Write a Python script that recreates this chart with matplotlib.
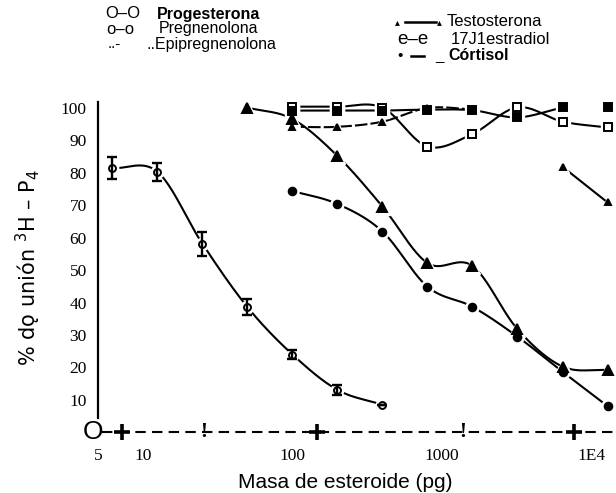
import numpy as np
import matplotlib
matplotlib.use("Agg")
import matplotlib.pyplot as plt

# ---------------- data ----------------
doses = [6.25, 12.5, 25, 50, 100, 200, 400, 800, 1600, 3200, 6400, 12800]

prog_idx = [0, 1, 2, 3, 4, 5, 6]
prog_val = [81.5, 80.3, 58.1, 38.6, 24.0, 13.1, 8.5]
prog_err = [3.4, 2.8, 3.7, 2.5, 1.5, 1.5, 0.0]

testo_idx = [3, 4, 5, 6, 7, 8, 9, 10, 11]
testo_val = [100.1, 96.6, 85.2, 69.6, 52.2, 51.3, 31.8, 20.3, 19.2]

cort_idx = [4, 5, 6, 7, 8, 9, 10, 11]
cort_val = [74.4, 70.4, 61.9, 44.9, 38.7, 29.5, 18.7, 8.1]

opensq_idx = [4, 5, 6, 7, 8, 9, 10, 11]
opensq_val = [100.4, 100.4, 100.1, 88.1, 92.0, 100.2, 95.8, 94.0]

fillsq_idx = [4, 5, 6, 7, 8, 9, 10]
fillsq_val = [99.2, 99.2, 99.2, 99.5, 99.3, 97.1, 100.2]
fillsq_lone_idx = [11]
fillsq_lone_val = [100.4]

smtri_idx = [4, 5, 6, 7, 8]
smtri_val = [94.2, 94.2, 95.8, 100.0, 99.6]

pair_idx = [10, 11]
pair_val = [81.9, 70.9]

ytick_vals = [10, 20, 30, 40, 50, 60, 70, 80, 90, 100]
xtick_vals = [5, 10, 100, 1000, 10000]
xtick_labels = ["5", "10", "100", "1000", "1E4"]

# ---------------- helpers ----------------
def dose_of(i):
    return doses[0] * 2.0 ** np.asarray(i, dtype=float)

def smooth(idx, val, n=24):
    """Catmull-Rom path through the given points (for drawing the line)."""
    x = np.asarray(idx, float)
    y = np.asarray(val, float)
    if len(x) < 3:
        return dose_of(x), y
    P = np.column_stack([x, y])
    P = np.vstack([2 * P[0] - P[1], P, 2 * P[-1] - P[-2]])
    out = []
    t = np.linspace(0, 1, n, endpoint=False)[:, None]
    for k in range(1, len(P) - 2):
        p0, p1, p2, p3 = P[k - 1], P[k], P[k + 1], P[k + 2]
        seg = 0.5 * ((2 * p1) + (-p0 + p2) * t + (2 * p0 - 5 * p1 + 4 * p2 - p3) * t ** 2
                     + (-p0 + 3 * p1 - 3 * p2 + p3) * t ** 3)
        out.append(seg)
    out.append(P[-2][None, :])
    out = np.vstack(out)
    return dose_of(out[:, 0]), out[:, 1]

# ---------------- figure ----------------
W, H = 616, 493
fig = plt.figure(figsize=(W / 100, H / 100), dpi=100)
ax_left_px, ax_right_px = 98, 616
y_bot_px, y_top_px = 442.1, 101.5
ax = fig.add_axes([ax_left_px / W, 1 - y_bot_px / H,
                   (ax_right_px - ax_left_px) / W, (y_bot_px - y_top_px) / H])
ax.set_xscale("log")
ax.set_xlim(5, 14590)
ax.set_ylim(-3, 102)

lw = 1.5
k = "black"

def curve(idx, val, ls="-"):
    xs, ys = smooth(idx, val)
    ax.plot(xs, ys, color=k, lw=lw, ls=ls, solid_capstyle="butt", zorder=2)

def marks(idx, val, marker, size, fill, halo=True):
    xs = dose_of(idx)
    if halo:
        ax.plot(xs, val, ls="none", marker=marker, ms=size + 4, mfc="white",
                mec="white", zorder=3)
    ax.plot(xs, val, ls="none", marker=marker, ms=size, mfc=fill, mec=k,
            mew=1.4, zorder=4)

# progesterone with error bars
curve(prog_idx, prog_val)
ax.errorbar(dose_of(prog_idx), prog_val, yerr=prog_err, fmt="none", ecolor=k,
            elinewidth=1.7, capsize=3.5, capthick=1.7, zorder=5)
marks(prog_idx, prog_val, "o", 5, "white")

curve(testo_idx, testo_val)
marks(testo_idx, testo_val, "^", 7, k)

curve(cort_idx, cort_val)
marks(cort_idx, cort_val, "o", 5.5, k)

curve(opensq_idx, opensq_val)
marks(opensq_idx, opensq_val, "s", 6, "white")

curve(fillsq_idx, fillsq_val)
marks(fillsq_idx, fillsq_val, "s", 5.5, k)
marks(fillsq_lone_idx, fillsq_lone_val, "s", 5.5, k, halo=False)

curve(smtri_idx, smtri_val, ls=(0, (6, 1.5)))
marks(smtri_idx, smtri_val, "^", 4.5, k)

ax.plot(dose_of(pair_idx), pair_val, color=k, lw=lw, zorder=2)
marks(pair_idx, pair_val, "^", 5, k)

# ---------------- axes styling ----------------
for s in ["top", "right", "bottom"]:
    ax.spines[s].set_visible(False)
ax.spines["left"].set_linewidth(1.6)
ax.spines["left"].set_bounds(4.4, 101.8)

ax.set_yticks(ytick_vals)
ax.set_yticklabels([str(v) for v in ytick_vals], family="Liberation Serif", fontsize=12.5)
ax.set_xticks(xtick_vals)
ax.set_xticklabels(xtick_labels, family="Liberation Serif", fontsize=12.5)
ax.xaxis.set_minor_locator(matplotlib.ticker.NullLocator())
ax.tick_params(axis="y", length=0, pad=8)
ax.tick_params(axis="x", length=0, pad=4)

# typed-looking baseline axis  O+----!-------+---------!------+--
ax.plot([5.3, 14590], [0, 0], color=k, lw=1.5, ls=(0, (5, 3)), clip_on=False, zorder=1)
ax.text(4.6, 0, "O", ha="center", va="center", fontsize=19, family="Liberation Sans",
        clip_on=False)
for xd in [7.2, 145, 7600]:
    ax.plot([xd], [0], marker="+", ms=11, mew=2.6, color=k, clip_on=False, zorder=3)
for xd in [25.6, 1380]:
    ax.text(xd, 0, "!", ha="center", va="center", fontsize=15, family="Liberation Serif",
            fontweight="bold", clip_on=False)

fig.text(345 / W, 1 - 482 / H, "Masa de esteroide (pg)", ha="center", va="center",
         family="Liberation Sans", fontsize=15)
fig.text(28 / W, 1 - 268 / H, "% dǫ unión $^{3}$H – P$_{4}$", rotation=90,
         ha="center", va="center", fontsize=15, family="DejaVu Sans")

# ---------------- legend (typed text) ----------------
def ftxt(x, y, s, **kw):
    fig.text(x / W, 1 - y / H, s, va="center", **kw)

lf = ["Liberation Sans", "DejaVu Sans"]
ftxt(105, 14, "O–O", fontsize=12, family=lf)
ftxt(157, 14, "Progesterona", fontsize=11.5, family=lf, fontweight="bold")
ftxt(106, 29, "o–o", fontsize=12, family=lf)
ftxt(159, 29, "Pregnenolona", fontsize=11.5, family=lf)
ftxt(108, 44, "..-", fontsize=11, family=lf)
ftxt(147, 44, "..Epipregnenolona", fontsize=11.5, family=lf)

ftxt(395, 22, "▴", fontsize=7, family=lf)
fig.add_artist(matplotlib.lines.Line2D([405 / W, 436 / W], [1 - 22 / H, 1 - 22 / H],
                                       color=k, lw=1.8))
ftxt(437, 22, "▴", fontsize=7, family=lf)
ftxt(447, 22, "Testosterona", fontsize=12, family=lf)
ftxt(397, 39, "e–e", fontsize=13.5, family=lf)
ftxt(451, 39, "17J1estradiol", fontsize=12, family=lf)
ftxt(397, 56, "•", fontsize=11, family=lf)
fig.add_artist(matplotlib.lines.Line2D([411 / W, 424 / W], [1 - 56 / H, 1 - 56 / H],
                                       color=k, lw=1.8))
ftxt(435, 56, "_", fontsize=11, family=lf)
ftxt(448, 56, "Córtisol", fontsize=11.5, family=lf, fontweight="bold")

fig.savefig("out.png", dpi=100)
